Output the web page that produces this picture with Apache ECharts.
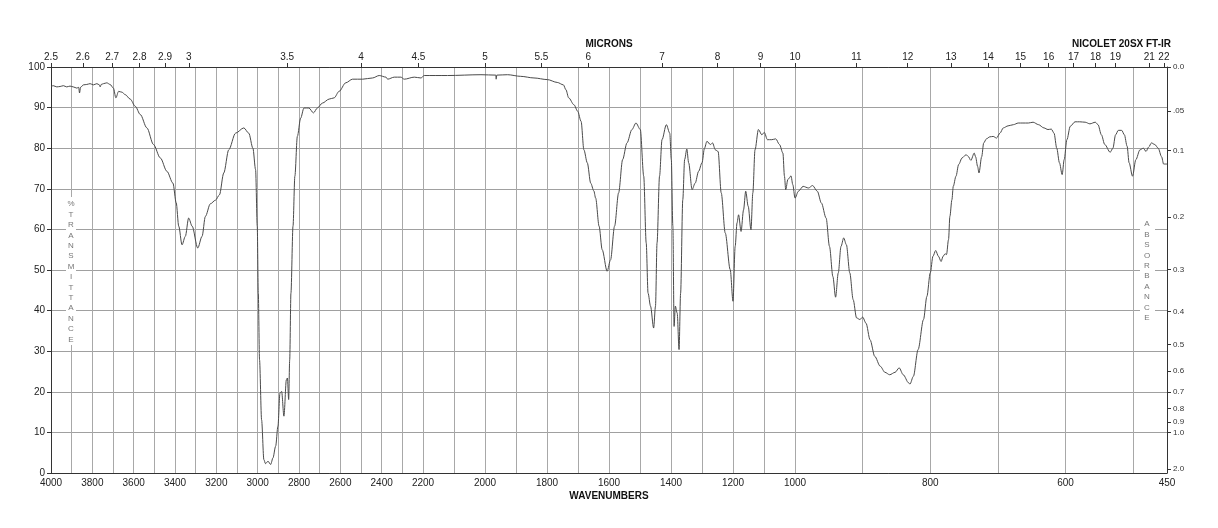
<!DOCTYPE html>
<html>
<head>
<meta charset="utf-8">
<script src="https://cdn.jsdelivr.net/npm/echarts@6/dist/echarts.min.js"></script>
<style>
  html, body { margin: 0; padding: 0; background: #fff; }
  #chart { width: 1218px; height: 528px; }
</style>
</head>
<body>
<div id="chart"></div>
<script>
// spectrum: wavenumber (cm-1) and %T
const wavenumbers = [
  4000, 3989, 3972, 3956, 3940, 3924, 3908, 3892, 3875, 3866, 3862, 3857, 3843, 3827, 3811, 3795,
  3778, 3766, 3762, 3757, 3746, 3730, 3714, 3698, 3686, 3673, 3657, 3641, 3617, 3592, 3568, 3536,
  3504, 3471, 3439, 3410, 3394, 3382, 3366, 3350, 3334, 3317, 3290, 3269, 3253, 3229, 3204, 3185,
  3164, 3140, 3107, 3067, 3043, 3023, 3010, 3002, 2997, 2991, 2981, 2970, 2962, 2950, 2937, 2926,
  2913, 2902, 2892, 2884, 2873, 2861, 2856, 2850, 2845, 2839, 2829, 2820, 2808, 2792, 2776, 2752,
  2730, 2711, 2687, 2654, 2630, 2606, 2574, 2541, 2492, 2444, 2412, 2379, 2371, 2339, 2307, 2291,
  2242, 2210, 2196, 2121, 2013, 1965, 1964, 1962, 1927, 1885, 1842, 1799, 1767, 1747, 1739, 1730,
  1713, 1701, 1690, 1681, 1670, 1659, 1649, 1643, 1632, 1622, 1606, 1595, 1582, 1569, 1556, 1542,
  1526, 1513, 1499, 1488, 1480, 1474, 1466, 1456, 1450, 1445, 1437, 1429, 1415, 1404, 1399, 1394,
  1390, 1386, 1380, 1374, 1369, 1362, 1356, 1349, 1343, 1332, 1322, 1311, 1300, 1292, 1284, 1273,
  1266, 1257, 1248, 1238, 1225, 1209, 1200, 1193, 1187, 1182, 1174, 1166, 1159, 1151, 1142, 1136,
  1129, 1118, 1107, 1099, 1089, 1075, 1062, 1050, 1039, 1034, 1030, 1023, 1018, 1013, 1007, 1000,
  995, 988, 980, 974, 967, 961, 954, 949, 944, 940, 936, 932, 928, 924, 919, 914,
  909, 904, 900, 895, 889, 882, 874, 867, 860, 852, 846, 840, 832, 830, 825, 818,
  810, 805, 800, 796, 792, 788, 784, 781, 778, 776, 773, 771, 768, 766, 762, 758,
  753, 747, 744, 740, 735, 733, 730, 728, 724, 721, 717, 712, 707, 702, 697, 692,
  685, 677, 670, 663, 655, 648, 640, 632, 626, 621, 617, 613, 609, 605, 602, 598,
  593, 586, 579, 571, 564, 556, 552, 547, 542, 534, 530, 526, 522, 517, 513, 509,
  506, 501, 496, 490, 485, 481, 477, 473, 468, 463, 458, 455, 450
];
const transmittance = [
  95.2, 95.4, 95.1, 95.2, 95.4, 95.1, 95.3, 95.1, 94.8, 95.0, 93.6, 95.0, 95.6, 95.7, 95.9, 95.6,
  95.9, 95.6, 95.1, 95.7, 95.9, 96.1, 95.7, 94.8, 92.4, 94.0, 93.8, 93.2, 92.1, 90.3, 88.3, 85.0,
  80.9, 77.6, 74.3, 71.4, 66.5, 60.8, 56.2, 58.3, 62.8, 60.8, 55.4, 58.3, 63.2, 66.3, 67.2, 68.5,
  73.9, 79.6, 83.7, 85.0, 83.7, 80.0, 74.7, 60.8, 44.3, 27.9, 13.1, 3.3, 2.3, 2.9, 2.1, 3.7,
  6.6, 11.5, 19.7, 20.1, 14.0, 23.0, 23.4, 18.1, 27.9, 44.3, 60.8, 73.1, 82.9, 87.4, 89.9, 89.9,
  88.7, 89.9, 91.1, 92.1, 92.4, 94.0, 96.1, 97.0, 97.0, 97.3, 97.9, 97.5, 97.0, 97.5, 97.5, 97.0,
  97.5, 97.3, 97.9, 97.9, 98.1, 98.0, 97.0, 98.0, 98.1, 97.7, 97.3, 96.9, 96.2, 95.6, 94.4, 92.4,
  90.7, 89.1, 86.6, 79.6, 76.4, 71.4, 69.5, 67.7, 60.8, 55.0, 49.7, 52.5, 60.8, 69.0, 77.2, 81.3,
  84.6, 86.2, 84.6, 73.1, 56.7, 44.3, 41.1, 35.7, 41.1, 56.7, 73.1, 82.1, 85.8, 83.7, 77.2, 60.8,
  36.1, 41.1, 39.4, 30.4, 44.3, 67.3, 77.2, 79.8, 76.4, 69.8, 71.4, 74.3, 76.4, 80.0, 81.7, 80.9,
  81.3, 79.6, 79.2, 69.0, 59.1, 50.1, 42.3, 55.8, 61.6, 63.6, 59.5, 64.8, 69.4, 65.7, 59.9, 69.0,
  79.6, 84.6, 83.3, 83.9, 82.1, 82.1, 82.3, 80.9, 78.8, 73.1, 69.8, 72.3, 72.7, 73.2, 71.0, 67.7,
  69.4, 70.6, 70.2, 70.8, 69.4, 66.5, 62.8, 55.8, 48.4, 43.3, 49.3, 55.8, 57.9, 56.2, 49.3, 42.7,
  38.2, 37.8, 38.4, 36.9, 32.8, 28.7, 26.3, 24.8, 24.2, 24.8, 25.9, 24.2, 22.2, 21.9, 23.8, 30.4,
  37.8, 43.5, 49.3, 53.4, 54.8, 53.4, 52.1, 53.4, 54.0, 53.8, 57.5, 63.2, 67.3, 70.6, 73.1, 76.0,
  77.6, 78.4, 78.0, 77.0, 78.8, 77.9, 75.5, 73.9, 77.9, 81.3, 82.3, 82.8, 82.9, 82.5, 83.7, 85.0,
  85.5, 85.8, 86.2, 86.2, 86.2, 86.4, 85.8, 85.0, 84.6, 84.7, 83.7, 80.0, 76.4, 73.5, 77.2, 82.1,
  85.4, 86.5, 86.5, 86.4, 86.0, 86.4, 85.8, 83.3, 80.9, 79.0, 80.0, 83.3, 84.4, 84.4, 83.3, 80.5,
  76.4, 73.1, 77.2, 79.6, 80.0, 79.2, 80.3, 81.3, 80.9, 80.0, 77.9, 76.1, 76.1
];

// tick labels
const wavenumberLabels = [4000, 3800, 3600, 3400, 3200, 3000, 2800, 2600, 2400, 2200, 2000, 1800, 1600, 1400, 1200, 1000, 800, 600, 450];
const micronLabels = [2.5, 2.6, 2.7, 2.8, 2.9, 3, 3.5, 4, 4.5, 5, 5.5, 6, 7, 8, 9, 10, 11, 12, 13, 14, 15, 16, 17, 18, 19, 21, 22];
const absorbanceValues = [0, 0.05, 0.1, 0.2, 0.3, 0.4, 0.5, 0.6, 0.7, 0.8, 0.9, 1.0, 2.0];
const absorbanceLabels = ['0.0', '.05', '0.1', '0.2', '0.3', '0.4', '0.5', '0.6', '0.7', '0.8', '0.9', '1.0', '2.0'];

// chart paper changes scale at 2200 and 1000 cm-1 (three equal-width panels)
const scaleBreaks = [4000, 2200, 1000, 450];

function wnToPos(w) {
  for (let i = 0; i < scaleBreaks.length - 1; i++) {
    const a = scaleBreaks[i], b = scaleBreaks[i + 1];
    if (w >= b || i === scaleBreaks.length - 2) return i + (a - w) / (a - b);
  }
}

function lookup(positions, texts) {
  return function (v) {
    for (let i = 0; i < positions.length; i++) {
      if (Math.abs(positions[i] - v) < 1e-4) return texts[i];
    }
    return '';
  };
}

// vertical grid every 100 cm-1
const gridWn = [];
for (let w = 3900; w >= 500; w -= 100) gridWn.push(w);

const wnLabelPos = wavenumberLabels.map(wnToPos);
const micronPos = micronLabels.map(m => wnToPos(10000 / m));
const absPos = absorbanceValues.map(a => 100 * Math.pow(10, -a));

const font = '"Liberation Sans", Arial, Helvetica, sans-serif';
const axisLine = { show: true, onZero: false, lineStyle: { color: '#333', width: 1 } };
const chart = echarts.init(document.getElementById('chart'));

chart.setOption({
  animation: false,
  backgroundColor: '#fff',
  grid: { left: 51, right: 51, top: 67, bottom: 55, outerBoundsMode: 'none' },
  xAxis: [
    {
      type: 'value', position: 'bottom', min: 0, max: 3,
      axisLine: axisLine,
      axisTick: { show: false, customValues: gridWn.map(wnToPos) },
      splitLine: { show: true, lineStyle: { color: '#a8a8a8', width: 1 } },
      axisLabel: {
        customValues: wnLabelPos,
        formatter: lookup(wnLabelPos, wavenumberLabels.map(String)),
        fontSize: 10, fontFamily: font, color: '#222', margin: 5
      }
    },
    {
      type: 'value', position: 'top', min: 0, max: 3,
      axisLine: axisLine,
      axisTick: { show: true, customValues: micronPos, length: 4, lineStyle: { color: '#333' } },
      splitLine: { show: false },
      axisLabel: {
        customValues: micronPos,
        formatter: lookup(micronPos, micronLabels.map(String)),
        fontSize: 10, fontFamily: font, color: '#222', margin: 5
      }
    }
  ],
  yAxis: [
    {
      type: 'value', position: 'left', min: 0, max: 100, interval: 10,
      axisLine: axisLine,
      axisTick: { show: true, length: 4, lineStyle: { color: '#333' } },
      splitLine: { show: true, lineStyle: { color: '#a0a0a0', width: 1 } },
      axisLabel: { fontSize: 10, fontFamily: font, color: '#222', margin: 6 }
    },
    {
      type: 'value', position: 'right', min: 0, max: 100,
      axisLine: axisLine,
      axisTick: { show: true, customValues: absPos, length: 4, lineStyle: { color: '#333' } },
      splitLine: { show: false },
      axisLabel: {
        customValues: absPos,
        formatter: lookup(absPos, absorbanceLabels),
        fontSize: 8, fontFamily: font, color: '#333', margin: 6
      }
    }
  ],
  series: [
    {
      type: 'line',
      xAxisIndex: 0,
      yAxisIndex: 0,
      data: wavenumbers.map((w, i) => [wnToPos(w), transmittance[i]]),
      showSymbol: false,
      symbol: 'none',
      smooth: 0.3,
      smoothMonotone: 'x',
      silent: true,
      lineStyle: { color: '#4a4a4a', width: 1 }
    }
  ],
  graphic: [
    {
      type: 'text', x: 609, y: 44, silent: true,
      style: { text: 'MICRONS', font: 'bold 10px ' + font, fill: '#111', align: 'center', verticalAlign: 'middle' }
    },
    {
      type: 'text', x: 1171, y: 44, silent: true,
      style: { text: 'NICOLET 20SX FT-IR', font: 'bold 10px ' + font, fill: '#111', align: 'right', verticalAlign: 'middle' }
    },
    {
      type: 'text', x: 609, y: 496, silent: true,
      style: { text: 'WAVENUMBERS', font: 'bold 10px ' + font, fill: '#111', align: 'center', verticalAlign: 'middle' }
    },
    // white strips behind the stacked axis titles
    {
      type: 'rect', z: 100, silent: true,
      shape: { x: 66, y: 197, width: 10, height: 148 },
      style: { fill: '#fff' }
    },
    {
      type: 'text', x: 71, y: 199, silent: true, z: 101,
      style: {
        text: '%\nT\nR\nA\nN\nS\nM\nI\nT\nT\nA\nN\nC\nE',
        font: '8px ' + font, fill: '#777', lineHeight: 10.4,
        align: 'center', verticalAlign: 'top'
      }
    },
    {
      type: 'rect', z: 100, silent: true,
      shape: { x: 1140, y: 217, width: 15, height: 106 },
      style: { fill: '#fff' }
    },
    {
      type: 'text', x: 1147, y: 219, silent: true, z: 101,
      style: {
        text: 'A\nB\nS\nO\nR\nB\nA\nN\nC\nE',
        font: '8px ' + font, fill: '#777', lineHeight: 10.4,
        align: 'center', verticalAlign: 'top'
      }
    }
  ]
});
</script>
</body>
</html>
